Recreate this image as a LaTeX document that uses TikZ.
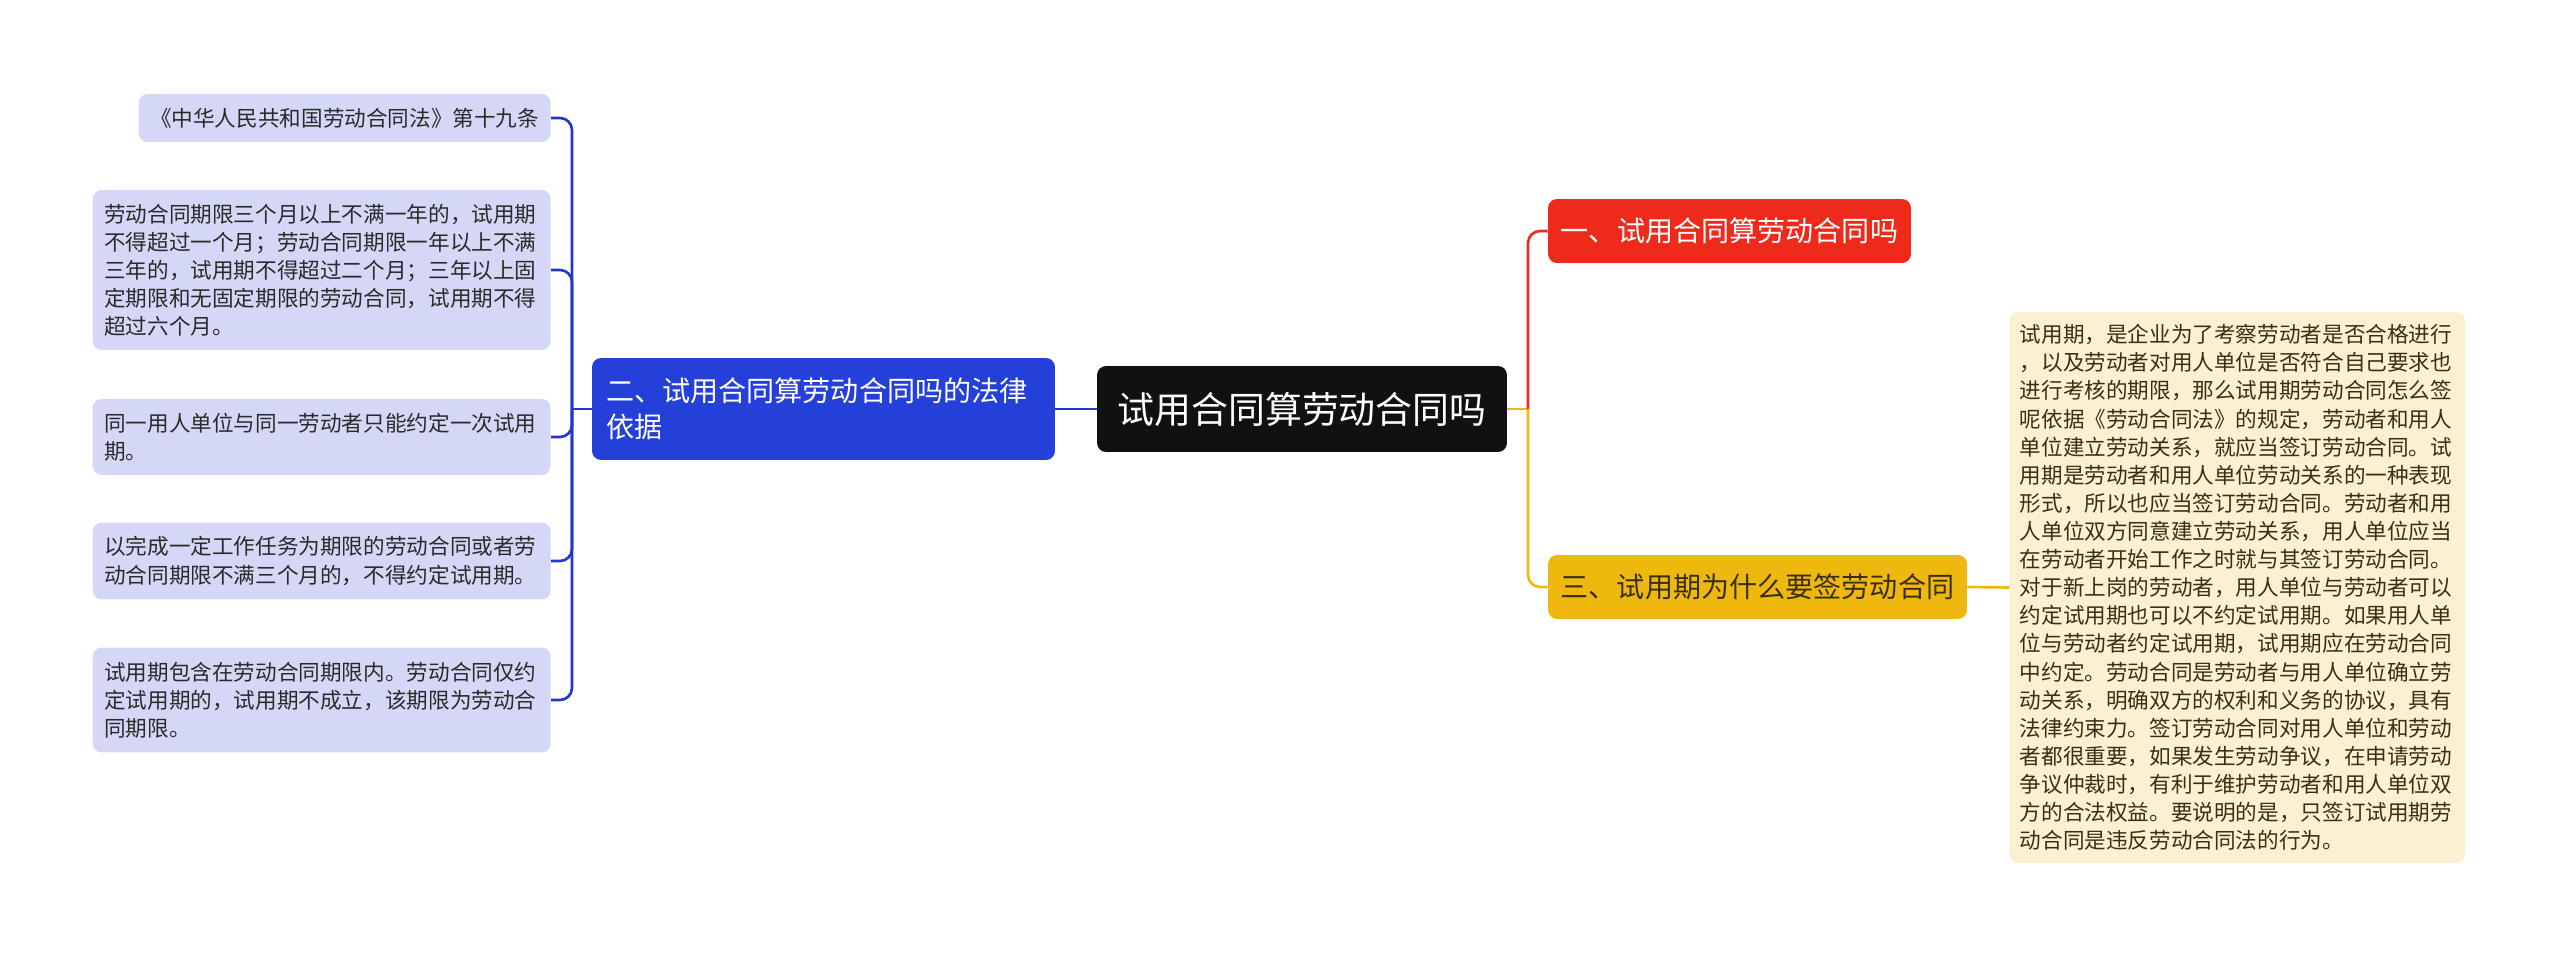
\documentclass[tikz,border=0pt]{standalone}
\usepackage{fontspec}
\setmainfont{Noto Sans CJK SC}
\usepackage{xcolor}
\definecolor{rootbg}{HTML}{111111}
\definecolor{redbr}{HTML}{EE2B1B}
\definecolor{bluebr}{HTML}{2440D9}
\definecolor{bluelink}{HTML}{2137C8}
\definecolor{yellowbr}{HTML}{EFB80F}
\definecolor{leafbg}{HTML}{D4D8F6}
\definecolor{notebg}{HTML}{FCF0D2}
\definecolor{leaftext}{HTML}{2A2A2A}
\definecolor{notetext}{HTML}{3A300F}

\begin{document}
\begin{tikzpicture}[x=0.02cm, y=-0.02cm,
    box/.style={rounded corners=0.18cm, inner sep=0pt},
    branch/.style={box, minimum height=1.28cm, font=\fontsize{16}{20.5}\selectfont},
    leaf/.style={box, fill=leafbg, text=leaftext, anchor=east, align=left,
      text width=8.7cm, inner xsep=0.23cm, font=\fontsize{12.3}{16}\selectfont},
    link/.style={line width=1.5pt, rounded corners=0.24cm}]
  \useasboundingbox (0,0) rectangle (2560,959);

  % centre and main branches
  \node[box, fill=rootbg, text=white, minimum width=8.2cm, minimum height=1.72cm,
    font=\fontsize{21}{26}\selectfont] (root) at (1302,409) {试用合同算劳动合同吗};
  \node[branch, fill=redbr, text=white, minimum width=7.26cm]
    (one) at (1729.5,231) {一、试用合同算劳动合同吗};
  \node[branch, fill=yellowbr, text=notetext, minimum width=8.38cm]
    (three) at (1757.5,587) {三、试用期为什么要签劳动合同};
  \node[box, fill=bluebr, text=white, align=left, text width=8.7cm, inner xsep=0.28cm,
    minimum height=2.04cm, font=\fontsize{16}{20.5}\selectfont]
    (two) at (823.5,409) {二、试用合同算劳动合同吗的法律\\依据};

  % left leaves
  \node[leaf, text width=, inner xsep=0.23cm, minimum height=0.96cm]
    (law) at (551,118) {《中华人民共和国劳动合同法》第十九条};
  \node[leaf, minimum height=3.2cm] (limit) at (551,270)
    {劳动合同期限三个月以上不满一年的，试用期\\
     不得超过一个月；劳动合同期限一年以上不满\\
     三年的，试用期不得超过二个月；三年以上固\\
     定期限和无固定期限的劳动合同，试用期不得\\
     超过六个月。};
  \node[leaf, minimum height=1.52cm] (once) at (551,437)
    {同一用人单位与同一劳动者只能约定一次试用\\期。};
  \node[leaf, minimum height=1.54cm] (task) at (551,561)
    {以完成一定工作任务为期限的劳动合同或者劳\\
     动合同期限不满三个月的，不得约定试用期。};
  \node[leaf, minimum height=2.1cm] (within) at (551,700)
    {试用期包含在劳动合同期限内。劳动合同仅约\\
     定试用期的，试用期不成立，该期限为劳动合\\
     同期限。};

  % right note
  \node[box, fill=notebg, text=notetext, anchor=west, align=left, text width=8.7cm,
    inner xsep=0.21cm, minimum height=11.02cm, font=\fontsize{12.3}{16}\selectfont]
    (note) at (2009,587.5)
    {试用期，是企业为了考察劳动者是否合格进行\\
     ，以及劳动者对用人单位是否符合自己要求也\\
     进行考核的期限，那么试用期劳动合同怎么签\\
     呢依据《劳动合同法》的规定，劳动者和用人\\
     单位建立劳动关系，就应当签订劳动合同。试\\
     用期是劳动者和用人单位劳动关系的一种表现\\
     形式，所以也应当签订劳动合同。劳动者和用\\
     人单位双方同意建立劳动关系，用人单位应当\\
     在劳动者开始工作之时就与其签订劳动合同。\\
     对于新上岗的劳动者，用人单位与劳动者可以\\
     约定试用期也可以不约定试用期。如果用人单\\
     位与劳动者约定试用期，试用期应在劳动合同\\
     中约定。劳动合同是劳动者与用人单位确立劳\\
     动关系，明确双方的权利和义务的协议，具有\\
     法律约束力。签订劳动合同对用人单位和劳动\\
     者都很重要，如果发生劳动争议，在申请劳动\\
     争议仲裁时，有利于维护劳动者和用人单位双\\
     方的合法权益。要说明的是，只签订试用期劳\\
     动合同是违反劳动合同法的行为。};

  % connectors
  \coordinate (lj) at (572,409);
  \coordinate (rj) at (1528,409);
  \draw[link, bluelink] (root.west) -- (two.east);
  \draw[link, bluelink] (two.west) -- (lj);
  \foreach \n in {law, limit, once, task, within}
    \draw[link, bluelink] (lj) |- (\n.east);
  \draw[link, yellowbr] (root.east) -- (rj);
  \draw[link, redbr] (rj) |- (one.west);
  \draw[link, yellowbr] (rj) |- (three.west);
  \draw[link, yellowbr] (three.east) -- (note.west);
\end{tikzpicture}
\end{document}
